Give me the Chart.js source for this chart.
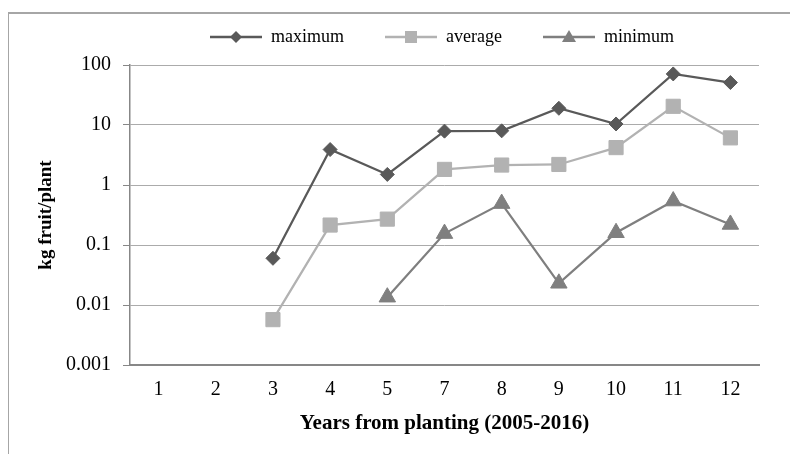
<!DOCTYPE html>
<html><head><meta charset="utf-8">
<script src="https://cdn.jsdelivr.net/npm/chart.js@4.4.0/dist/chart.umd.min.js"></script>
<style>
html,body{margin:0;padding:0;background:#fff;}
#wrap{position:relative;width:790px;height:454px;overflow:hidden;background:#fff;}
#frame{position:absolute;left:8px;top:12px;width:800px;height:460px;border-left:1.5px solid #a6a6a6;border-top:2px solid #a6a6a6;}
canvas{position:absolute;left:0;top:0;}
</style></head><body>
<div id="wrap"><div id="frame"></div><canvas id="c" width="790" height="454"></canvas></div>
<script>
const categories = ['1','2','3','4','5','7','8','9','10','11','12'];
const maximumValues = [null, null, 0.06, 3.9, 1.5, 7.9, 8.0, 19, 10.4, 71, 51];
const averageValues = [null, null, 0.0057, 0.215, 0.27, 1.82, 2.15, 2.2, 4.2, 20.5, 6.1];
const minimumValues = [null, null, null, null, 0.0135, 0.155, 0.49, 0.023, 0.16, 0.54, 0.22];
const seriesNames = ['maximum', 'average', 'minimum'];
const yTickValues = [0.001, 0.01, 0.1, 1, 10, 100];
const yTickLabels = ['0.001', '0.01', '0.1', '1', '10', '100'];

const colors = ['#595959', '#b2b2b2', '#7f7f7f'];
const styles = ['rectRot', 'rect', 'triangle'];
const radii = [7, 10, 9.5];
const FONT = '"Liberation Serif", "Times New Roman", serif';
const LEAD = 31;
const LEGEND_EXTRA = 9;

function makeSymbol(color, style) {
  const c = document.createElement('canvas');
  c.width = 52 + LEAD; c.height = 20;
  const g = c.getContext('2d');
  const cy = 10, x0 = LEAD, cx = LEAD + 26;
  g.strokeStyle = color; g.lineWidth = 2.5;
  g.beginPath(); g.moveTo(x0, cy); g.lineTo(x0 + 52, cy); g.stroke();
  g.fillStyle = color;
  g.beginPath();
  if (style === 'rectRot') {
    g.moveTo(cx - 6, cy); g.lineTo(cx, cy - 6); g.lineTo(cx + 6, cy); g.lineTo(cx, cy + 6);
  } else if (style === 'rect') {
    g.rect(cx - 6, cy - 6, 12, 12);
  } else {
    g.moveTo(cx, cy - 7); g.lineTo(cx + 7, cy + 5); g.lineTo(cx - 7, cy + 5);
  }
  g.closePath(); g.fill();
  return c;
}
const symbols = colors.map((c, i) => makeSymbol(c, styles[i]));

const legendShift = {
  id: 'legendShift',
  beforeLayout(chart) {
    const lg = chart.legend;
    if (lg && !lg._extraWrapped) {
      const f = lg.fit;
      lg.fit = function () { f.call(this); this.height += LEGEND_EXTRA; };
      lg._extraWrapped = true;
    }
  },
  afterLayout(chart) {
    const lg = chart.legend;
    lg.left = 210 - 10 - LEAD;
    lg.right = 790;
  }
};

function ds(i, data) {
  return {
    label: seriesNames[i],
    data: data,
    borderColor: colors[i],
    backgroundColor: colors[i],
    borderWidth: 2.25,
    pointStyle: styles[i],
    pointRadius: radii[i],
    pointHoverRadius: radii[i],
    pointBorderWidth: 1,
    pointBorderColor: colors[i],
    pointBackgroundColor: colors[i],
    tension: 0,
    spanGaps: false
  };
}

new Chart(document.getElementById('c'), {
  type: 'line',
  data: {
    labels: categories,
    datasets: [ds(0, maximumValues), ds(1, averageValues), ds(2, minimumValues)]
  },
  plugins: [legendShift],
  options: {
    responsive: false,
    animation: false,
    devicePixelRatio: 1,
    events: [],
    layout: { padding: { top: 18, right: 31, bottom: 0, left: 0 } },
    plugins: {
      tooltip: { enabled: false },
      legend: {
        display: true,
        position: 'top',
        align: 'start',
        labels: {
          usePointStyle: true,
          pointStyleWidth: 52 + LEAD,
          padding: 10,
          color: '#000',
          font: { family: FONT, size: 18 },
          generateLabels(chart) {
            return seriesNames.map((n, i) => ({
              text: n, pointStyle: symbols[i], fillStyle: colors[i], strokeStyle: colors[i],
              lineWidth: 0, hidden: false, datasetIndex: i, fontColor: '#000'
            }));
          }
        }
      }
    },
    scales: {
      x: {
        type: 'category',
        offset: true,
        grid: { display: false, drawTicks: false },
        border: { display: true, color: '#878787', width: 2 },
        ticks: { color: '#000', font: { family: FONT, size: 20 }, padding: 13, maxRotation: 0, autoSkip: false },
        title: { display: true, text: 'Years from planting (2005-2016)', color: '#000',
                 font: { family: FONT, size: 21, weight: 'bold' }, padding: { top: 0, bottom: 18 } },
        afterFit(scale) { scale.height = 89; }
      },
      y: {
        type: 'logarithmic',
        min: 0.001,
        max: 100,
        grid: { color: '#ababab', lineWidth: 1, tickColor: '#878787', tickLength: 7, drawTicks: true },
        border: { display: true, color: '#878787', width: 1.5 },
        afterBuildTicks(scale) { scale.ticks = yTickValues.map(v => ({ value: v })); },
        ticks: {
          color: '#000', font: { family: FONT, size: 20 }, padding: 12,
          callback(value) { const k = yTickValues.indexOf(value); return k >= 0 ? yTickLabels[k] : ''; }
        },
        title: { display: true, text: 'kg fruit/plant', color: '#000',
                 font: { family: FONT, size: 19, weight: 'bold' }, padding: { top: 35, bottom: 0 } },
        afterFit(scale) { scale.width = 130; }
      }
    }
  }
});
</script>
</body></html>
